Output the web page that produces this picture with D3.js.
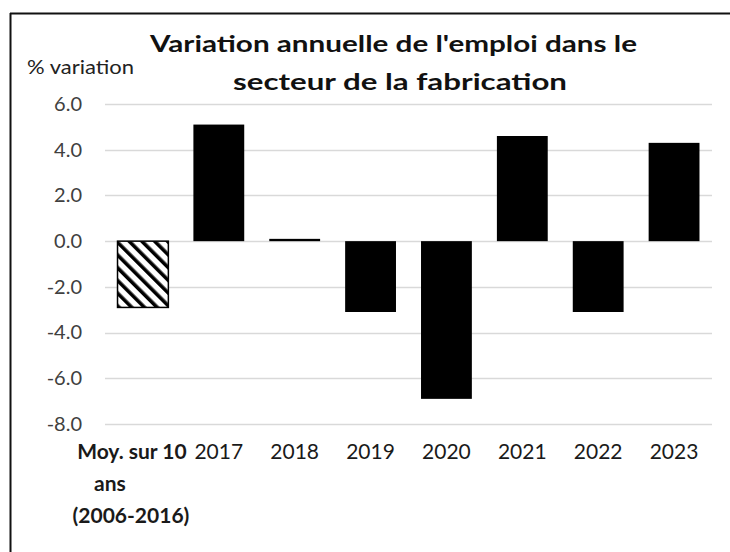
<!DOCTYPE html>
<html><head><meta charset="utf-8">
<script src="https://cdn.jsdelivr.net/npm/d3@7"></script>
<style>
body{margin:0;background:#fff;overflow:hidden;}
text{font-family:Lato, Carlito, Calibri, sans-serif;}
</style></head>
<body>
<svg id="c" width="730" height="552"></svg>
<script>
const categories = ["Moy. sur 10 ans (2006-2016)", "2017", "2018", "2019", "2020", "2021", "2022", "2023"];
const categoryLines = [["Moy. sur 10", "ans", "(2006-2016)"], ["2017"], ["2018"], ["2019"], ["2020"], ["2021"], ["2022"], ["2023"]];
const values = [-2.9, 5.1, 0.1, -3.1, -6.9, 4.6, -3.1, 4.3];
const yTicks = [6, 4, 2, 0, -2, -4, -6, -8];
const titleLines = ["Variation annuelle de l'emploi dans le", "secteur de la fabrication"];
const yLabel = "% variation";

const svg = d3.select("#c");
// frame (top and left edges visible in the crop)
svg.append("line").attr("x1",10).attr("x2",730).attr("y1",13.5).attr("y2",13.5).attr("stroke","#111").attr("stroke-width",2);
svg.append("line").attr("x1",10.5).attr("x2",10.5).attr("y1",13).attr("y2",552).attr("stroke","#111").attr("stroke-width",2);

const defs = svg.append("defs");
const pat = defs.append("pattern").attr("id","hatch").attr("patternUnits","userSpaceOnUse")
  .attr("width",9).attr("height",9).attr("patternTransform","rotate(-45)");
pat.append("rect").attr("width",9).attr("height",9).attr("fill","#fff");
pat.append("rect").attr("x",0).attr("y",0).attr("width",3.6).attr("height",9).attr("fill","#000");

const x = d3.scaleBand().domain(categories).range([105, 712]).paddingInner(0.33).paddingOuter(0.165);
const y = d3.scaleLinear().domain([-8, 6]).range([424, 104]);

const grid = svg.append("g");
grid.selectAll("line").data(yTicks).join("line")
  .attr("x1",105).attr("x2",712).attr("y1",d=>Math.round(y(d))+0.5).attr("y2",d=>Math.round(y(d))+0.5)
  .attr("stroke","#d9d9d9").attr("stroke-width",1.5);

const yAxis = d3.axisLeft(y).tickValues(yTicks).tickFormat(d=>d.toFixed(1)).tickSize(0).tickPadding(0);
const ya = svg.append("g").attr("transform","translate(82,0)").call(yAxis);
ya.select(".domain").remove();
ya.selectAll("text").attr("font-size",20).attr("fill","#404040").attr("font-family","Lato, sans-serif");

svg.append("g").selectAll("rect").data(values).join("rect")
  .attr("x",(d,i)=>x(categories[i]))
  .attr("width",x.bandwidth())
  .attr("y",d=>y(Math.max(0,d)))
  .attr("height",d=>Math.abs(y(d)-y(0)))
  .attr("fill",(d,i)=>i===0?"url(#hatch)":"#000")
  .attr("stroke","#000").attr("stroke-width",(d,i)=>i===0?1.5:0);

// line offsets for the wrapped first label (as wrapped in the original)
const lineShift = [[-11, -33, -12], [0], [0], [0], [0], [0], [0], [0]];
const xl = svg.append("g");
categories.forEach((c,i)=>{
  const cx = x(c)+x.bandwidth()/2;
  const t = xl.append("text").attr("x",cx).attr("y",459)
    .attr("text-anchor","middle").attr("font-size",21).attr("fill","#1a1a1a")
    .attr("font-weight",i===0?"bold":"normal");
  categoryLines[i].forEach((ln,j)=>{
    t.append("tspan").attr("x",cx+lineShift[i][j]).attr("dy",j===0?0:32).text(ln);
  });
});

svg.append("text").attr("x",393.5).attr("y",52).attr("text-anchor","middle")
  .attr("font-size",23).attr("font-weight","bold").attr("fill","#111")
  .attr("textLength",487).attr("lengthAdjust","spacingAndGlyphs").text(titleLines[0]);
svg.append("text").attr("x",400).attr("y",90).attr("text-anchor","middle")
  .attr("font-size",23).attr("font-weight","bold").attr("fill","#111")
  .attr("textLength",334).attr("lengthAdjust","spacingAndGlyphs").text(titleLines[1]);
svg.append("text").attr("x",27).attr("y",74).attr("font-size",20).attr("fill","#222")
  .attr("textLength",107).attr("lengthAdjust","spacingAndGlyphs").text(yLabel);
</script>
</body></html>
